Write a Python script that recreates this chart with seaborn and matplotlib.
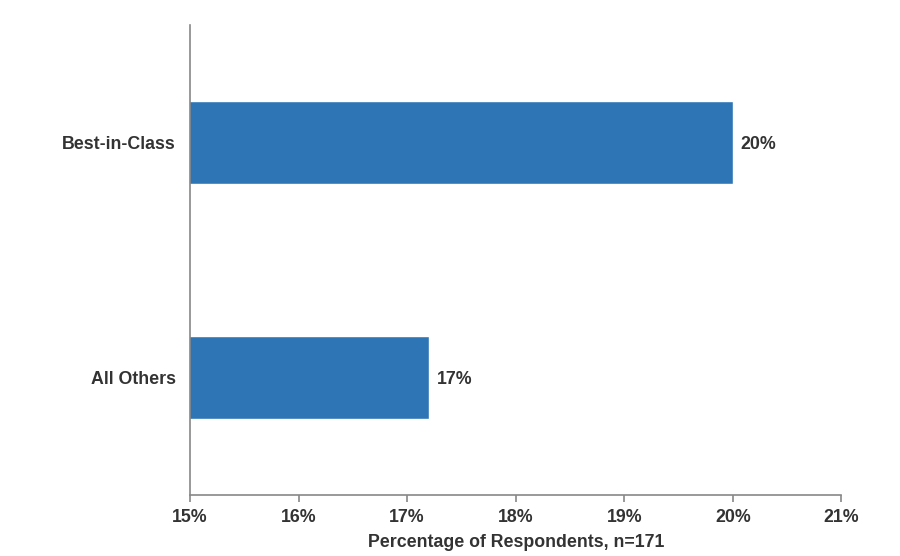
import matplotlib
matplotlib.use("Agg")
import matplotlib.pyplot as plt
import seaborn as sns
import pandas as pd

categories = ["Best-in-Class", "All Others"]
values = [20.0, 17.2]
labels = ["20%", "17%"]
xticks = [15, 16, 17, 18, 19, 20, 21]
xtick_labels = ["15%", "16%", "17%", "18%", "19%", "20%", "21%"]

sns.set_theme(style="white")
plt.rcParams['font.family'] = ['Liberation Sans', 'DejaVu Sans']

df = pd.DataFrame({"category": categories, "value": values})

fig = plt.figure(figsize=(9, 5.56), dpi=100)
ax = fig.add_axes([0.2111, 0.1097, 0.935 - 0.2111, 0.955 - 0.1097])

sns.barplot(data=df, x="value", y="category", orient="h", color="#2E75B6",
            saturation=1, width=0.35, ax=ax)

fs = 12.8
ax.set_xlim(15, 21)
ax.set_ylim(1.5, -0.5)
ax.set_xticks(xticks)
ax.set_xticklabels(xtick_labels, fontsize=fs, fontweight="bold", color="#333333")
ax.set_yticks(range(len(categories)))
ax.set_yticklabels(categories, fontsize=fs, fontweight="bold", color="#333333")
ax.set_xlabel("Percentage of Respondents, n=171", fontsize=fs, fontweight="bold",
              color="#333333", labelpad=6)
ax.set_ylabel("")

for i, (v, t) in enumerate(zip(values, labels)):
    ax.text(v + 0.07, i + 0.01, t, va="center", ha="left", fontsize=fs,
            fontweight="bold", color="#333333")

for s in ["top", "right"]:
    ax.spines[s].set_visible(False)
for s in ["left", "bottom"]:
    ax.spines[s].set_color("#888888")
    ax.spines[s].set_linewidth(1.2)

ax.tick_params(axis="x", which="major", bottom=True, length=5, width=1.2,
               color="#888888", pad=5)
ax.tick_params(axis="y", left=False, pad=4)

fig.savefig("out.png", dpi=100, facecolor="white")
